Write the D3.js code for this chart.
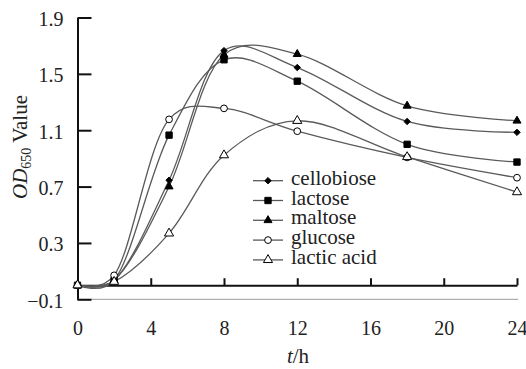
<!DOCTYPE html>
<html>
<head>
<meta charset="utf-8">
<script src="https://cdn.jsdelivr.net/npm/d3@7"></script>
<style>
  html, body { margin: 0; padding: 0; background: #fff; }
  svg { display: block; }
  text { font-family: "Liberation Serif", "DejaVu Serif", serif; fill: #222; }
</style>
</head>
<body>
<svg id="chart" width="526" height="369"></svg>
<script>
// ---- data ----
const hours = [0, 2, 5, 8, 12, 18, 24];
const cellobiose = [0, 0.035, 0.745, 1.665, 1.545, 1.162, 1.085];
const lactose    = [0, 0.035, 1.065, 1.600, 1.448, 1.000, 0.874];
const maltose    = [0, 0.035, 0.700, 1.635, 1.640, 1.273, 1.167];
const glucose    = [0, 0.070, 1.177, 1.255, 1.093, 0.907, 0.763];
const lacticAcid = [0, 0.025, 0.368, 0.923, 1.167, 0.910, 0.661];
const seriesNames = ["cellobiose", "lactose", "maltose", "glucose", "lactic acid"];
const xTicks = [0, 4, 8, 12, 16, 20, 24];
const yTicks = [-0.1, 0.3, 0.7, 1.1, 1.5, 1.9];

const seriesValues = [cellobiose, lactose, maltose, glucose, lacticAcid];
const markerStyle = [
  { type: d3.symbolDiamond2, size: 26, fill: "#000" },
  { type: d3.symbolSquare,   size: 40, fill: "#000" },
  { type: d3.symbolTriangle, size: 28, fill: "#000" },
  { type: d3.symbolCircle,   size: 36, fill: "#fff" },
  { type: d3.symbolTriangle, size: 36, fill: "#fff" }
];

const svg = d3.select("#chart");
const x = d3.scaleLinear().domain([0, 24]).range([77.5, 517]);
const y = d3.scaleLinear().domain([-0.1, 1.9]).range([299.3, 17.5]);

const lineColor = "#5a5a5a";

// bottom thin gray line at -0.1
svg.append("line")
  .attr("x1", x(0)).attr("x2", x(24) + 1)
  .attr("y1", y(-0.1)).attr("y2", y(-0.1))
  .attr("stroke", "#9a9a9a").attr("stroke-width", 1);

// y axis (ticks pointing inward)
const yAxis = d3.axisLeft(y).tickValues(yTicks)
  .tickSizeInner(-14).tickSizeOuter(0).tickPadding(14)
  .tickFormat(d => d < 0 ? "\u2212" + Math.abs(d).toFixed(1) : d.toFixed(1));
const gy = svg.append("g").attr("transform", `translate(${x(0)},0)`).call(yAxis);
gy.select(".domain").attr("stroke", "#111").attr("stroke-width", 2);
gy.selectAll(".tick line").attr("stroke", "#111").attr("stroke-width", 2);
gy.selectAll(".tick text").attr("font-size", 20).attr("dy", "0.4em")
  .attr("font-family", "Liberation Serif").attr("fill", "#222");

// x axis at y = 0 (ticks pointing up)
const xAxis = d3.axisBottom(x).tickValues(xTicks)
  .tickSizeInner(-7).tickSizeOuter(0).tickPadding(0)
  .tickFormat(d3.format("d"));
const gx = svg.append("g").attr("transform", `translate(0,${y(0)})`).call(xAxis);
gx.select(".domain").attr("stroke", "#111").attr("stroke-width", 2);
gx.selectAll(".tick line").attr("stroke", "#111").attr("stroke-width", 2)
  .filter(d => d === 0).remove();
gx.selectAll(".tick text").attr("font-size", 20).attr("y", 50).attr("dy", null)
  .attr("font-family", "Liberation Serif").attr("fill", "#222");

// lines
const line = d3.line()
  .x((d, i) => x(hours[i]))
  .y(d => y(d))
  .curve(d3.curveCatmullRom.alpha(0.25));

seriesValues.forEach(vals => {
  svg.append("path")
    .attr("d", line(vals))
    .attr("fill", "none")
    .attr("stroke", lineColor)
    .attr("stroke-width", 1.3);
});

// markers
seriesValues.forEach((vals, si) => {
  const st = markerStyle[si];
  const sym = d3.symbol().type(st.type).size(st.size);
  svg.append("g").selectAll("path")
    .data(vals)
    .join("path")
    .attr("d", sym)
    .attr("transform", (d, i) => `translate(${x(hours[i])},${y(d)})`)
    .attr("fill", st.fill)
    .attr("stroke", "#000")
    .attr("stroke-width", 1);
});

// legend
const legend = svg.append("g");
seriesNames.forEach((name, i) => {
  const cy = 180.7 + i * 19.8;
  legend.append("line")
    .attr("x1", 253).attr("x2", 283).attr("y1", cy).attr("y2", cy)
    .attr("stroke", lineColor).attr("stroke-width", 1.3);
  const st = markerStyle[i];
  legend.append("path")
    .attr("d", d3.symbol().type(st.type).size(st.size)())
    .attr("transform", `translate(268,${cy})`)
    .attr("fill", st.fill).attr("stroke", "#000").attr("stroke-width", 1);
  legend.append("text")
    .attr("x", 291).attr("y", cy + 4)
    .attr("font-size", 21)
    .text(name);
});

// y axis title
const yt = svg.append("text")
  .attr("transform", "rotate(-90)")
  .attr("x", -147).attr("y", 27)
  .attr("text-anchor", "middle")
  .attr("font-size", 21);
yt.append("tspan").attr("font-style", "italic").text("OD");
yt.append("tspan").attr("font-size", 14).attr("dy", 4).text("650");
yt.append("tspan").attr("dy", -4).text(" Value");

// x axis title
const xt = svg.append("text")
  .attr("x", 298).attr("y", 363)
  .attr("text-anchor", "middle")
  .attr("font-size", 21);
xt.append("tspan").attr("font-style", "italic").text("t");
xt.append("tspan").text("/h");
</script>
</body>
</html>
